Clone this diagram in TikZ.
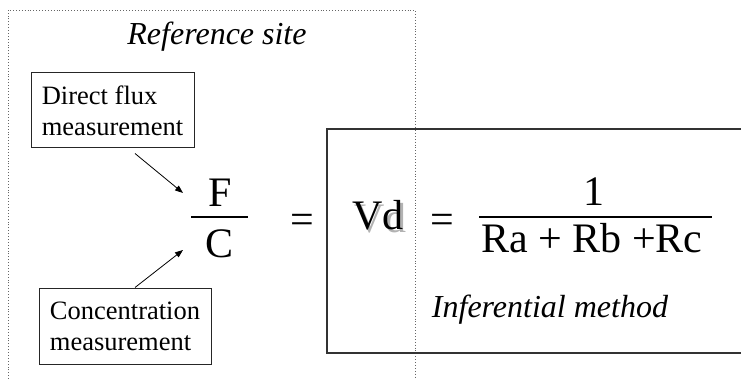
\documentclass[tikz,border=0pt]{standalone}
\usepackage{fontspec}
\setmainfont{Liberation Serif}
\usetikzlibrary{arrows.meta,positioning,calc}

\newcommand{\shadowed}[1]{{\color{black!30}\rlap{\hspace{2.5pt}\raisebox{-2.5pt}{#1}}}#1}

\begin{document}
\begin{tikzpicture}[x=1pt, y=-1pt,
    mbox/.style={rectangle, draw=black!85, line width=1pt, align=left,
        font=\fontsize{26.5}{31}\selectfont, inner sep=0pt},
    big/.style={font=\fontsize{42}{46}\selectfont, inner sep=0pt, anchor=base},
    itl/.style={font=\fontsize{32}{36}\itshape, inner sep=0pt, anchor=base},
    arr/.style={-{Triangle[length=8pt,width=6pt]}, line width=0.8pt},
    frame/.style={draw=black!60, dotted, line width=0.9pt},
    bigbox/.style={draw=black!80, line width=1.6pt}
]
    \useasboundingbox (0,0) rectangle (741,379);

    % site frame and inferential box
    \draw[frame] (8,379) |- (415,10) -- (415,379);
    \draw[bigbox] (741,129) -| (327,353) -- (741,353);

    \node[itl] (site) at (217,45) {Reference site};
    \node[mbox, minimum width=163pt, minimum height=75pt] (flux) at (112.5,110.5) {Direct flux\\measurement};
    \node[mbox, minimum width=172pt, minimum height=76pt] (conc) at (125,326) {Concentration\\measurement};

    % F over C
    \node[big] (F) at (220,207) {F};
    \node[big] (C) at (220,258) {C};
    \draw[line width=1.2pt] (191,217) -- (248,217);
    \node[big] (eqa) at (302,234) {=};

    \node[big] (vd) at (378,230) {\shadowed{Vd}};
    \node[big] (eqb) at (442,234) {=};
    \node[big] (one) at (594,206) {1};
    \draw[line width=1.2pt] (479,217) -- (712,217);
    \node[big] (res) at (592,253) {Ra + Rb +Rc};
    \node[itl] (infer) at (550,317) {Inferential method};

    \coordinate (tipF) at (183,193);
    \coordinate (tipC) at (183,250);
    \draw[arr] ([xshift=22.5pt,yshift=-5pt]flux.south) -- (tipF);
    \draw[arr] ([xshift=10pt]conc.north) -- (tipC);
\end{tikzpicture}
\end{document}
